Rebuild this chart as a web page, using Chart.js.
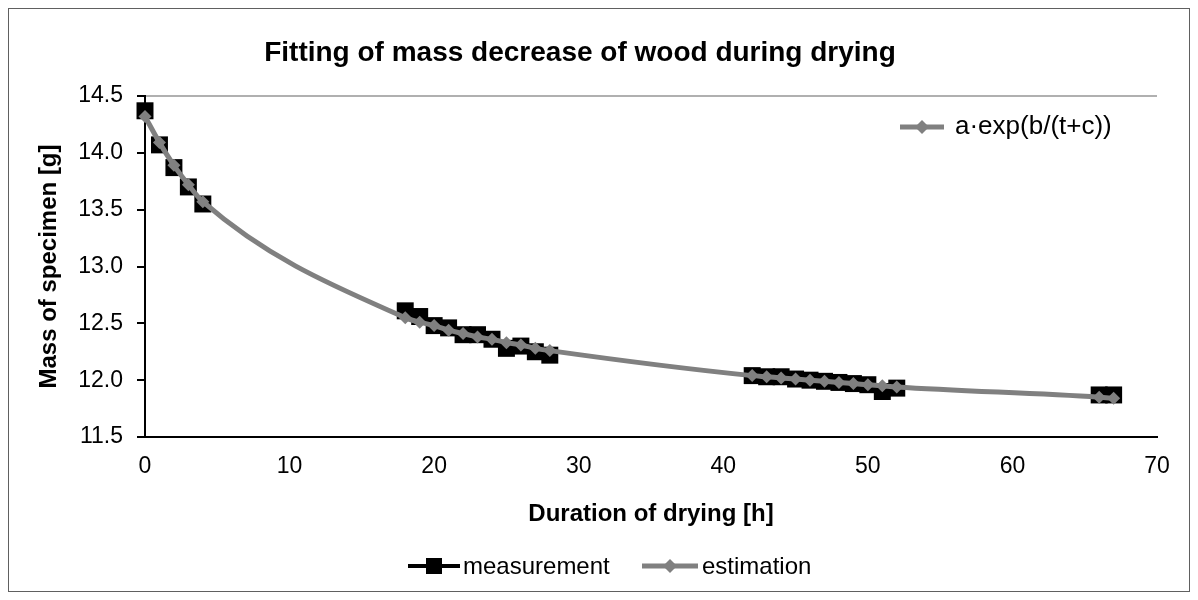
<!DOCTYPE html>
<html>
<head>
<meta charset="utf-8">
<title>Fitting of mass decrease of wood during drying</title>
<script src="https://cdn.jsdelivr.net/npm/chart.js@4.4.1/dist/chart.umd.min.js"></script>
<style>
  html, body { margin: 0; padding: 0; background: #fff; }
  canvas { display: block; }
</style>
</head>
<body>
<canvas id="dryingChart" width="1198" height="600"></canvas>
<script>
// drying time of the specimen [h]
const hours = [0, 1, 2, 3, 4,
  18, 19, 20, 21, 22, 23, 24, 25, 26, 27, 28,
  42, 43, 44, 45, 46, 47, 48, 49, 50, 51, 52,
  66, 67];

// measured mass [g]
const measuredMass = [14.37, 14.07, 13.87, 13.70, 13.55,
  12.61, 12.56, 12.48, 12.46, 12.40, 12.40, 12.36, 12.28, 12.30, 12.25, 12.22,
  12.04, 12.03, 12.03, 12.01, 12.00, 11.99, 11.98, 11.97, 11.96, 11.90, 11.93,
  11.87, 11.87];

// fitted mass a·exp(b/(t+c)) [g]
const estimatedMass = [14.32, 14.09, 13.89, 13.72, 13.57,
  12.55, 12.51, 12.48, 12.44, 12.41, 12.38, 12.36, 12.33, 12.31, 12.28, 12.26,
  12.04, 12.03, 12.02, 12.01, 12.00, 11.99, 11.98, 11.97, 11.96, 11.95, 11.94,
  11.85, 11.84];

const xTicks = [0, 10, 20, 30, 40, 50, 60, 70];
const yTicks = [11.5, 12.0, 12.5, 13.0, 13.5, 14.0, 14.5];

const FONT = "'Liberation Sans', Arial, sans-serif";
const GREY = "#808080";

// little "line + marker" sample used in both legends
function drawSample(ctx, x, y, w, color, shape) {
  ctx.save();
  ctx.strokeStyle = color;
  ctx.lineWidth = shape === "square" ? 4 : 5;
  ctx.beginPath();
  ctx.moveTo(x, y);
  ctx.lineTo(x + w, y);
  ctx.stroke();
  ctx.fillStyle = color;
  const cx = x + w / 2;
  if (shape === "square") {
    ctx.fillRect(cx - 8, y - 8, 16, 16);
  } else {
    ctx.beginPath();
    ctx.moveTo(cx, y - 7); ctx.lineTo(cx + 7, y); ctx.lineTo(cx, y + 7); ctx.lineTo(cx - 7, y);
    ctx.closePath();
    ctx.fill();
  }
  ctx.restore();
}

// frame, title and the two legends (Excel-like layout)
const decorPlugin = {
  id: "decor",
  beforeDraw(chart) {
    const ctx = chart.ctx;
    ctx.save();
    ctx.fillStyle = "#fff";
    ctx.fillRect(0, 0, chart.width, chart.height);
    ctx.strokeStyle = "#606060";
    ctx.lineWidth = 1;
    ctx.strokeRect(8.5, 8.5, 1181, 583);
    ctx.restore();
  },
  afterDraw(chart) {
    const ctx = chart.ctx;
    ctx.save();
    ctx.fillStyle = "#000";
    ctx.textBaseline = "middle";

    ctx.font = "bold 28px " + FONT;
    ctx.textAlign = "center";
    ctx.fillText("Fitting of mass decrease of wood during drying", 580, 53);

    // legend inside the plot
    ctx.textAlign = "left";
    drawSample(ctx, 900, 127, 44, GREY, "diamond");
    ctx.font = "26px " + FONT;
    ctx.fillText("a\u00b7exp(b/(t+c))", 955, 127);

    // legend under the chart
    ctx.font = "24px " + FONT;
    drawSample(ctx, 408, 566, 52, "#000", "square");
    ctx.fillText("measurement", 463, 567);
    drawSample(ctx, 642, 566, 56, GREY, "diamond");
    ctx.fillText("estimation", 702, 567);
    ctx.restore();
  }
};

const ctx = document.getElementById("dryingChart").getContext("2d");
new Chart(ctx, {
  type: "scatter",
  data: {
    datasets: [
      {
        label: "measurement",
        data: hours.map((t, i) => ({ x: t, y: measuredMass[i] })),
        showLine: false,
        clip: false,
        pointStyle: "rect",
        pointRadius: 12,
        pointHoverRadius: 12,
        backgroundColor: "#000",
        borderColor: "#000",
        borderWidth: 0,
        order: 2
      },
      {
        label: "estimation",
        data: hours.map((t, i) => ({ x: t, y: estimatedMass[i] })),
        showLine: true,
        clip: false,
        borderColor: GREY,
        borderWidth: 5,
        cubicInterpolationMode: "monotone",
        pointStyle: "rectRot",
        pointRadius: 6.5,
        pointHoverRadius: 6.5,
        backgroundColor: GREY,
        pointBorderWidth: 0,
        order: 1
      }
    ]
  },
  options: {
    responsive: false,
    animation: false,
    layout: { padding: { left: 20, right: 41, top: 96, bottom: 63 } },
    plugins: {
      title: { display: false },
      legend: { display: false },
      tooltip: { enabled: false }
    },
    scales: {
      x: {
        type: "linear",
        min: 0,
        max: 70,
        afterBuildTicks: (axis) => { axis.ticks = xTicks.map((v) => ({ value: v })); },
        afterFit: (axis) => { axis.height = 100; },
        grid: { display: false, drawTicks: true, tickLength: 8, tickColor: "#000" },
        border: { color: "#000", width: 2 },
        ticks: { color: "#000", font: { family: FONT, size: 23 }, padding: 8 },
        title: {
          display: true,
          text: "Duration of drying [h]",
          color: "#000",
          font: { family: FONT, size: 24, weight: "bold" },
          padding: { top: 0, bottom: 8 }
        }
      },
      y: {
        min: 11.5,
        max: 14.5,
        afterBuildTicks: (axis) => { axis.ticks = yTicks.map((v) => ({ value: v })); },
        afterFit: (axis) => { axis.width = 125; },
        grid: {
          drawOnChartArea: true,
          color: (c) => (c.tick && c.tick.value === 14.5 ? "#b0b0b0" : "rgba(0,0,0,0)"),
          tickColor: "#000",
          tickLength: 8,
          lineWidth: 2
        },
        border: { color: "#000", width: 2 },
        ticks: {
          color: "#000",
          font: { family: FONT, size: 23 },
          padding: 14,
          callback: (v) => v.toFixed(1)
        },
        title: {
          display: true,
          text: "Mass of specimen [g]",
          color: "#000",
          font: { family: FONT, size: 24, weight: "bold" },
          padding: { top: 15, bottom: 0 }
        }
      }
    }
  },
  plugins: [decorPlugin]
});
</script>
</body>
</html>
